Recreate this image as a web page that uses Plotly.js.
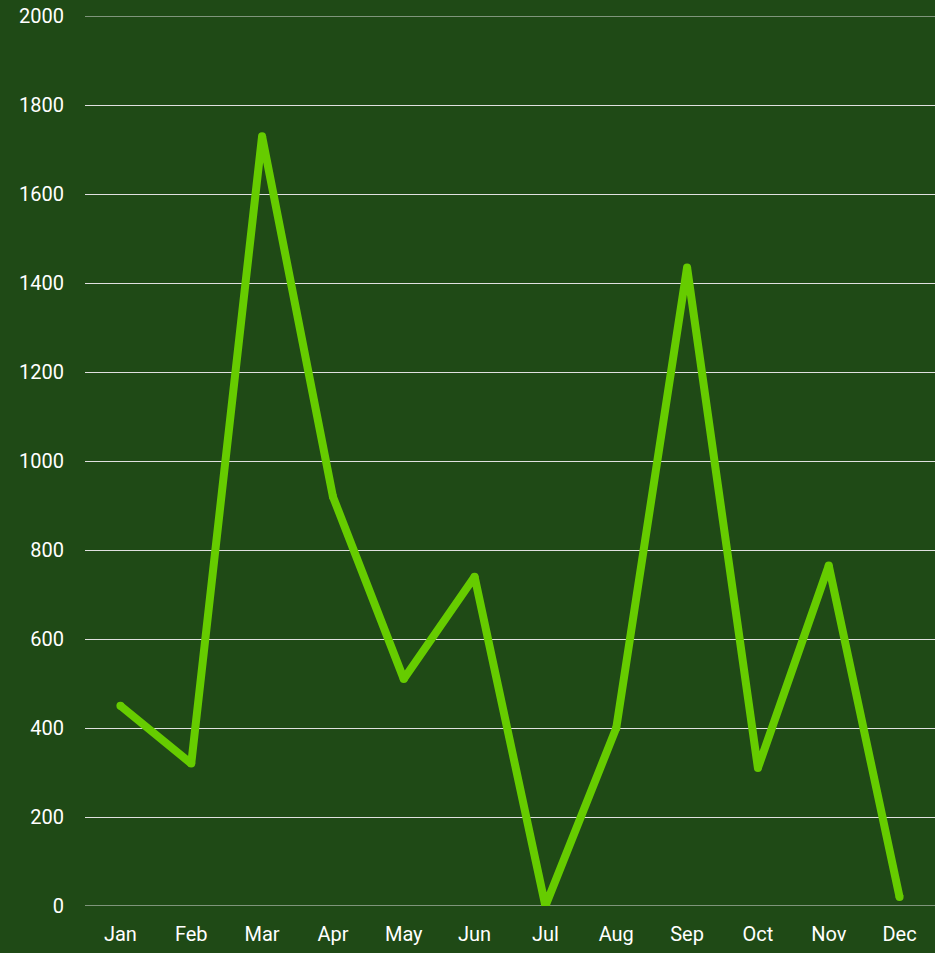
<!DOCTYPE html>
<html>
<head>
<meta charset="utf-8">
<script src="https://cdn.plot.ly/plotly-3.0.1.min.js"></script>
<style>html,body{margin:0;padding:0;background:#1f4a16;}#chart{width:935px;height:953px;}</style>
</head>
<body>
<div id="chart"></div>
<script>
const months = ["Jan","Feb","Mar","Apr","May","Jun","Jul","Aug","Sep","Oct","Nov","Dec"];
const values = [450, 320, 1730, 920, 510, 740, 0, 400, 1435, 310, 765, 20];
const yTicks = [0, 200, 400, 600, 800, 1000, 1200, 1400, 1600, 1800, 2000];

const yMin = yTicks[0];
const yMax = yTicks[yTicks.length - 1];

// Plotly drops grid lines that sit on the plot edges; draw those two as shapes.
const edgeGrid = [yMin, yMax].map(v => ({
  type: "line", xref: "paper", yref: "y",
  x0: 0, x1: 1, y0: v, y1: v,
  line: {color: "#e0e0e0", width: 1},
  layer: "below"
}));

Plotly.newPlot("chart", [{
  type: "scatter",
  mode: "lines+markers",
  x: months,
  y: values,
  line: {color: "#66cc00", width: 8},
  marker: {color: "#66cc00", size: 8, line: {width: 0}},
  cliponaxis: true,
  hoverinfo: "x+y"
}], {
  width: 935, height: 953,
  paper_bgcolor: "#1f4a16",
  plot_bgcolor: "#1f4a16",
  margin: {l: 85, r: 0, t: 16, b: 47},
  showlegend: false,
  font: {family: "Roboto, sans-serif", color: "#ffffff", size: 20},
  shapes: edgeGrid,
  xaxis: {
    type: "category",
    range: [-0.5, 11.5],
    showgrid: false,
    zeroline: false,
    showline: false,
    ticks: "",
    ticklabelstandoff: 14,
    tickfont: {family: "Roboto, sans-serif", color: "#ffffff", size: 20}
  },
  yaxis: {
    range: [yMin, yMax],
    tickvals: yTicks,
    ticktext: yTicks.map(String),
    showgrid: true,
    gridcolor: "#e0e0e0",
    gridwidth: 1,
    zeroline: false,
    showline: false,
    ticks: "",
    ticklabelstandoff: 20,
    tickfont: {family: "Roboto, sans-serif", color: "#ffffff", size: 20}
  }
}, {displayModeBar: false, staticPlot: true});
</script>
</body>
</html>
